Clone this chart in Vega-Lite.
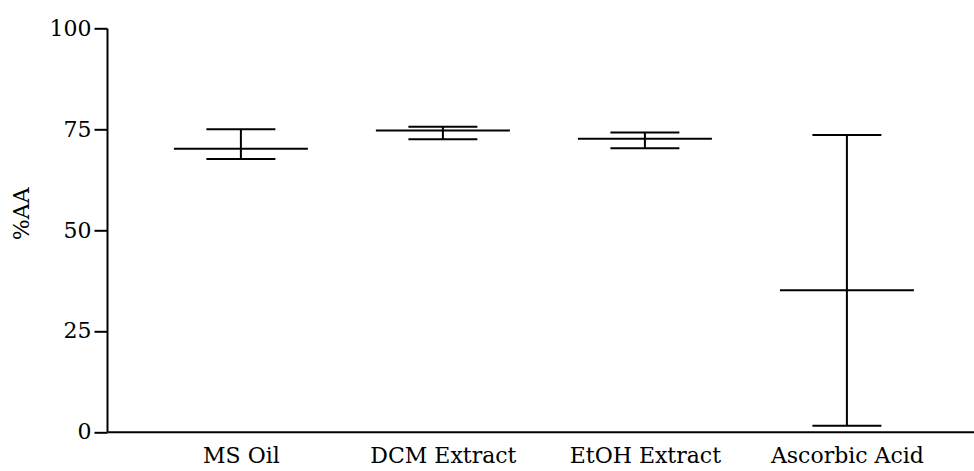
{
  "$schema": "https://vega.github.io/schema/vega-lite/v6.json",
  "autosize": {"type": "none"},
  "width": 867,
  "height": 403.5,
  "padding": {"left": 107, "top": 28.3, "right": 0, "bottom": 39.2},
  "background": "white",
  "config": {
    "view": {"stroke": null},
    "font": "DejaVu Serif",
    "axis": {"grid": false, "domainColor": "black", "domainWidth": 2, "tickColor": "black", "tickWidth": 2, "labelColor": "black", "titleColor": "black", "labelFont": "DejaVu Serif", "titleFont": "DejaVu Serif"}
  },
  "data": {
    "values": [
      {"group": "MS Oil", "mean": 70.15, "low": 67.6, "high": 74.96},
      {"group": "DCM Extract", "mean": 74.7, "low": 72.5, "high": 75.6},
      {"group": "EtOH Extract", "mean": 72.6, "low": 70.3, "high": 74.2},
      {"group": "Ascorbic Acid", "mean": 35.05, "low": 1.5, "high": 73.55}
    ]
  },
  "encoding": {
    "x": {
      "field": "group", "type": "nominal", "sort": null,
      "scale": {"type": "point", "padding": 0.646, "align": 0.513},
      "axis": {"title": null, "ticks": false, "labelAngle": 0, "labelFontSize": 22, "labelPadding": 14}
    }
  },
  "layer": [
    {
      "mark": {"type": "rule", "color": "black", "strokeWidth": 2},
      "encoding": {
        "y": {"field": "low", "type": "quantitative", "scale": {"domain": [0, 100], "nice": false},
          "axis": {"title": "%AA", "titleFontSize": 22, "titleFontWeight": "normal", "titlePadding": 16, "titleY": 185, "values": [0, 25, 50, 75, 100], "tickSize": 13, "labelFontSize": 22, "labelPadding": 3}},
        "y2": {"field": "high"}
      }
    },
    {
      "mark": {"type": "tick", "color": "black", "thickness": 2, "size": 134, "opacity": 1},
      "encoding": {"y": {"field": "mean", "type": "quantitative"}}
    },
    {
      "mark": {"type": "tick", "color": "black", "thickness": 2, "size": 69, "opacity": 1},
      "encoding": {"y": {"field": "low", "type": "quantitative"}}
    },
    {
      "mark": {"type": "tick", "color": "black", "thickness": 2, "size": 69, "opacity": 1},
      "encoding": {"y": {"field": "high", "type": "quantitative"}}
    }
  ]
}
